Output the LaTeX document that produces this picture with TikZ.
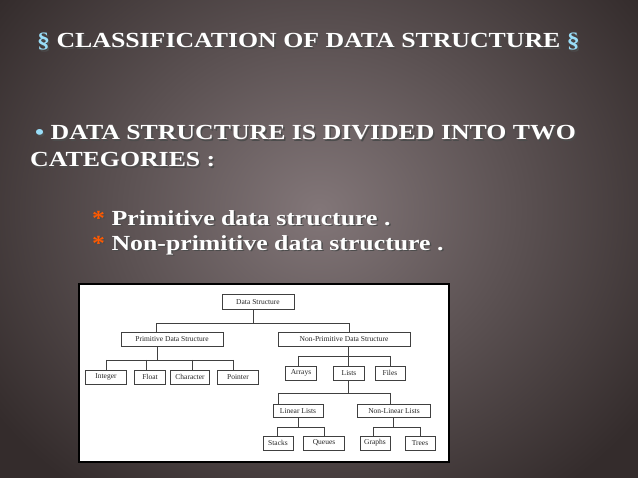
\documentclass[tikz,border=0pt]{standalone}
\usepackage{fontspec}
\setmainfont{Liberation Serif}
\newcommand{\widetxt}[1]{\scalebox{1.2}[1]{#1}}
\begin{document}
\begin{tikzpicture}[x=1pt,y=-1pt,
  bx/.style={draw=black!75,line width=0.5pt,fill=white,inner sep=0pt,font=\fontsize{7.5}{8}\selectfont,text=black!85},
  ln/.style={draw=black!75,line width=0.5pt},
  big/.style={font=\bfseries\fontsize{21.5}{24}\selectfont,text=white!92!black,anchor=west,inner sep=0pt}]
\useasboundingbox (0,0) rectangle (638,478);
\shade[inner color={rgb,255:red,130;green,118;blue,120},outer color={rgb,255:red,52;green,44;blue,44}] (-80,-140) rectangle (718,560);
\foreach \dx/\c in {1.5/black!70,0/white} {
\node[big,text=\c] (t\dx) at (37+\dx,42+\dx) {\widetxt{\textcolor{\ifdim\dx pt>0pt black!70\else cyan!40!white\fi}{§} CLASSIFICATION OF DATA STRUCTURE \textcolor{\ifdim\dx pt>0pt black!70\else cyan!40!white\fi}{§}}};
\node[big,text=\c] (a\dx) at (35+\dx,133+\dx) {\widetxt{\textcolor{\ifdim\dx pt>0pt black!70\else cyan!40!white\fi}{•} DATA STRUCTURE IS DIVIDED INTO TWO}};
\node[big,text=\c] (b\dx) at (30+\dx,160+\dx) {\widetxt{CATEGORIES :}};
\node[big,text=\c] (c\dx) at (92+\dx,218+\dx) {\widetxt{\textcolor{\ifdim\dx pt>0pt black!70\else orange!70!red\fi}{*} Primitive data structure .}};
\node[big,text=\c] (d\dx) at (92+\dx,245+\dx) {\widetxt{\textcolor{\ifdim\dx pt>0pt black!70\else orange!70!red\fi}{*} Non-primitive data structure .}};
}
\node[draw=black,line width=2.5pt,fill=white,minimum width=370,minimum height=178,inner sep=0pt] (panel) at (264,373) {};
\node[bx,minimum width=72,minimum height=15] (ds) at (258,302) {Data Structure};
\node[bx,minimum width=102,minimum height=14] (pds) at (172,339) {Primitive Data Structure};
\node[bx,minimum width=132,minimum height=14] (npds) at (344,339) {Non-Primitive Data Structure};
\node[bx,minimum width=41,minimum height=14] (int) at (106,377) {Integer};
\node[bx,minimum width=31,minimum height=14] (flt) at (150,377) {Float};
\node[bx,minimum width=39,minimum height=14] (chr) at (190,377) {Character};
\node[bx,minimum width=41,minimum height=14] (ptr) at (238,377) {Pointer};
\node[bx,minimum width=31,minimum height=14] (arr) at (301,373) {Arrays};
\node[bx,minimum width=31,minimum height=14] (lst) at (349,373) {Lists};
\node[bx,minimum width=30,minimum height=14] (fil) at (390,373) {Files};
\node[bx,minimum width=50,minimum height=13] (lin) at (298,411) {Linear Lists};
\node[bx,minimum width=73,minimum height=13] (nlin) at (394,411) {Non-Linear Lists};
\node[bx,minimum width=30,minimum height=14] (stk) at (278,443) {Stacks};
\node[bx,minimum width=41,minimum height=14] (que) at (324,443) {Queues};
\node[bx,minimum width=30,minimum height=14] (grp) at (375,443) {Graphs};
\node[bx,minimum width=30,minimum height=14] (tre) at (420,443) {Trees};
\coordinate (j1) at (253,323);
\draw[ln] (ds.south -| j1) -- (j1);
\draw[ln] (j1) -| (pds.north -| 156,0); \draw[ln] (j1) -| (npds.north -| 349,0);
\coordinate (j2) at (157,360);
\draw[ln] (pds.south -| j2) -- (j2);
\draw[ln] (106,360) -- (233,360);
\foreach \n/\x in {int/106,flt/146,chr/192,ptr/233} \draw[ln] (\x,360) -- (\n.north -| \x,0);
\coordinate (j3) at (348,356);
\draw[ln] (npds.south -| j3) -- (j3);
\draw[ln] (298,356) -- (390,356);
\foreach \n/\x in {arr/298,lst/348,fil/390} \draw[ln] (\x,356) -- (\n.north -| \x,0);
\coordinate (j4) at (348,393);
\draw[ln] (lst.south -| j4) -- (j4);
\draw[ln] (278,393) -- (390,393);
\foreach \n/\x in {lin/278,nlin/390} \draw[ln] (\x,393) -- (\n.north -| \x,0);
\coordinate (j5) at (298,427);
\draw[ln] (lin.south -| j5) -- (j5);
\draw[ln] (277,427) -- (324,427);
\foreach \n/\x in {stk/277,que/324} \draw[ln] (\x,427) -- (\n.north -| \x,0);
\coordinate (j6) at (393,427);
\draw[ln] (nlin.south -| j6) -- (j6);
\draw[ln] (373,427) -- (420,427);
\foreach \n/\x in {grp/373,tre/420} \draw[ln] (\x,427) -- (\n.north -| \x,0);
\end{tikzpicture}
\end{document}
